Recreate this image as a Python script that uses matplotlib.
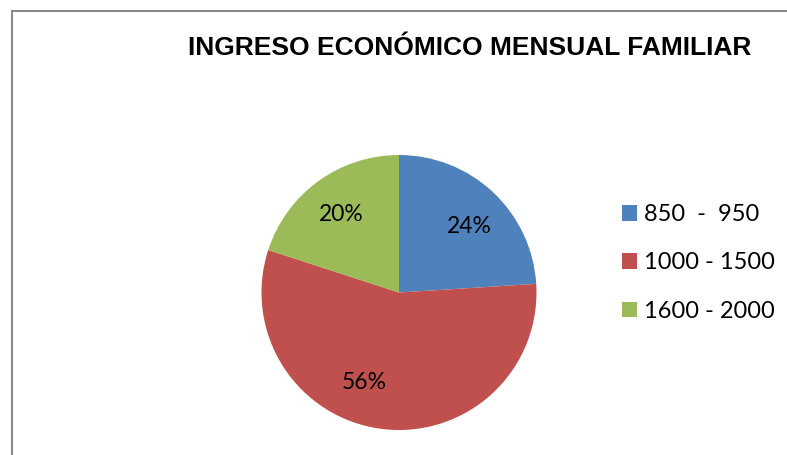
import numpy as np
import matplotlib
matplotlib.use("Agg")
import matplotlib.pyplot as plt
from matplotlib.patches import Rectangle

title = "INGRESO ECONÓMICO MENSUAL FAMILIAR"
categories = ["850  -  950", "1000 - 1500", "1600 - 2000"]
values = [24, 56, 20]
colors = ["#4F81BD", "#C0504D", "#9BBB59"]

W, H = 787, 455
fig = plt.figure(figsize=(W / 100, H / 100), dpi=100)
ax = fig.add_axes([0, 0, 1, 1])

cx, cy, r = 399, H - 292.5, 137.5
wedges, texts, autotexts = ax.pie(
    values, colors=colors, startangle=90, counterclock=False,
    center=(cx, cy), radius=r, autopct="%1.0f%%", pctdistance=0.705,
    wedgeprops=dict(linewidth=0), frame=True,
    textprops=dict(fontsize=16.5, family="Lato", color="black"))
ax.set_xlim(0, W)
ax.set_ylim(0, H)
ax.set_aspect("auto")
ax.axis("off")

# nudge labels like Excel's best-fit placement
shifts = [-3.5, -14, 0.5]
for t, s in zip(autotexts, shifts):
    x, y = t.get_position()
    ang = np.arctan2(y - cy, x - cx) + np.deg2rad(s)
    d = np.hypot(x - cx, y - cy)
    t.set_position((cx + d * np.cos(ang), cy + d * np.sin(ang)))

fig.text(470 / W, 1 - 48 / H, title, ha="center", va="center",
         fontsize=19, fontweight="bold", family="Liberation Sans")

leg = ax.legend(wedges, categories, loc="upper left",
                bbox_to_anchor=(622 / W, 1 - 204 / H), frameon=False,
                prop=dict(family="Lato", size=17), handlelength=0.64,
                handleheight=0.64, handletextpad=0.28, labelspacing=1.16,
                borderpad=0, borderaxespad=0,
                bbox_transform=fig.transFigure)

fig.add_artist(Rectangle((11.5 / W, -0.1), 2.0, (H - 10.5) / H + 0.1,
                         transform=fig.transFigure, fill=False,
                         edgecolor="#8c8c8c", linewidth=1.5))

fig.savefig("out.png", dpi=100)
